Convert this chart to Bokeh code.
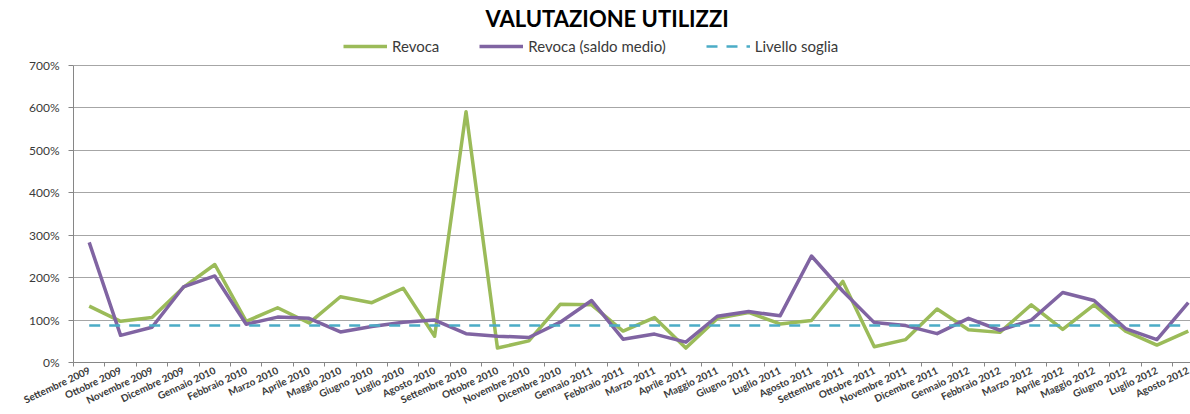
import numpy as np
from bokeh.plotting import figure
from bokeh.models import (Range1d, FixedTicker, PrintfTickFormatter,
                          ColumnDataSource, CustomJSTickFormatter)
from bokeh.embed import file_html
from bokeh.resources import INLINE

months = ["Settembre 2009", "Ottobre 2009", "Novembre 2009", "Dicembre 2009",
          "Gennaio 2010", "Febbraio 2010", "Marzo 2010", "Aprile 2010",
          "Maggio 2010", "Giugno 2010", "Luglio 2010", "Agosto 2010",
          "Settembre 2010", "Ottobre 2010", "Novembre 2010", "Dicembre 2010",
          "Gennaio 2011", "Febbraio 2011", "Marzo 2011", "Aprile 2011",
          "Maggio 2011", "Giugno 2011", "Luglio 2011", "Agosto 2011",
          "Settembre 2011", "Ottobre 2011", "Novembre 2011", "Dicembre 2011",
          "Gennaio 2012", "Febbraio 2012", "Marzo 2012", "Aprile 2012",
          "Maggio 2012", "Giugno 2012", "Luglio 2012", "Agosto 2012"]

# values in percent
revoca = [133, 97, 106, 177, 231, 97, 129, 93, 155, 141, 175, 62,
          591, 34, 51, 137, 136, 74, 106, 34, 104, 118, 91, 99,
          191, 37, 54, 126, 77, 71, 136, 78, 136, 74, 41, 74]
revoca_saldo = [283, 64, 83, 178, 204, 90, 107, 104, 72, 85, 95, 100,
                68, 62, 59, 95, 146, 55, 67, 48, 109, 120, 110, 251,
                168, 94, 87, 68, 104, 76, 100, 165, 146, 80, 54, 141]
soglia = [87] * 36

y_ticks = [0, 100, 200, 300, 400, 500, 600, 700]

x = (np.arange(len(months)) + 0.5).tolist()
src = ColumnDataSource(dict(x=x, month=months, revoca=revoca,
                            saldo=revoca_saldo, soglia=soglia))

FONT = "Lato"
TXT = "#3A3A3A"

# the frame reaches above the 700% line so that the legend row (drawn
# inside the frame) is not clipped; the axis itself stops at 700%.
p = figure(width=1190, height=414, output_backend="svg", toolbar_location=None,
           x_range=Range1d(0, 35.57), y_range=Range1d(0, 773),
           title="VALUTAZIONE UTILIZZI",
           min_border_left=73, min_border_right=0, min_border_top=34,
           outline_line_color=None)

p.title.text_font = FONT
p.title.text_font_size = "22px"
p.title.text_font_style = "bold"
p.title.text_color = "#000000"
p.title.align = "left"
p.title.offset = 412
p.title.standoff = 5

# x axis: labels at category centres, ticks at category boundaries
xa = p.xaxis[0]
xa.ticker = FixedTicker(ticks=x, minor_ticks=list(range(37)))
xa.formatter = CustomJSTickFormatter(args=dict(months=months),
                                     code="return months[Math.floor(tick)] || '';")
xa.major_label_orientation = 0.44
xa.major_tick_in = 0
xa.major_tick_out = 0
xa.minor_tick_in = 0
xa.minor_tick_out = 4
xa.minor_tick_line_color = "#868686"
xa.axis_line_color = "#868686"
xa.major_label_standoff = 3
xa.major_label_text_font = FONT
xa.major_label_text_font_size = "10px"
xa.major_label_text_font_style = "bold"
xa.major_label_text_color = TXT

ya = p.yaxis[0]
ya.ticker = FixedTicker(ticks=y_ticks)
ya.formatter = PrintfTickFormatter(format="%d%%")
ya.bounds = (0, 700)
ya.major_tick_in = 0
ya.major_tick_out = 5
ya.minor_tick_out = 0
ya.minor_tick_in = 0
ya.major_tick_line_color = "#868686"
ya.axis_line_color = "#868686"
ya.major_label_standoff = 9
ya.major_label_text_font = FONT
ya.major_label_text_font_size = "12px"
ya.major_label_text_color = TXT

p.xgrid.grid_line_color = None
p.ygrid.grid_line_color = "#A6A6A6"
p.ygrid.grid_line_width = 1

r1 = p.line("x", "revoca", source=src, line_color="#9BBB59", line_width=3.5,
            line_join="round", legend_label="Revoca")
r2 = p.line("x", "saldo", source=src, line_color="#8064A2", line_width=3.5,
            line_join="round", legend_label="Revoca (saldo medio)")
r3 = p.line("x", "soglia", source=src, line_color="#4BACC6", line_width=2.5,
            line_dash="11 9", legend_label="Livello soglia")

lg = p.legend[0]
lg.orientation = "horizontal"
lg.location = (270, 307)
lg.glyph_width = 44
lg.glyph_height = 14
lg.label_standoff = 5
lg.spacing = 40
lg.padding = 0
lg.margin = 0
lg.label_text_font = FONT
lg.label_text_font_size = "15px"
lg.label_text_color = TXT
lg.border_line_color = None
lg.background_fill_alpha = 0

open("out.html", "w").write(file_html(p, INLINE))
